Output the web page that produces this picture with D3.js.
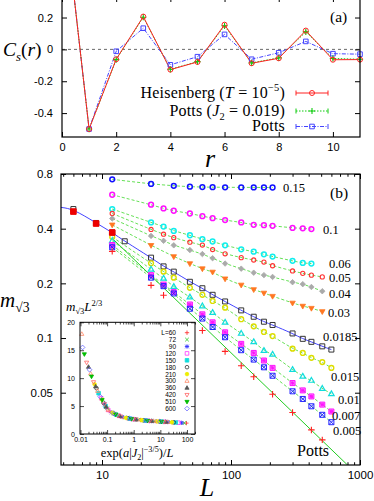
<!DOCTYPE html>
<html>
<head>
<meta charset="utf-8">
<script src="https://cdn.jsdelivr.net/npm/d3@7"></script>
<style>
  body { margin: 0; background: #fff; }
  svg { display: block; }
</style>
</head>
<body>
<div id="frame"></div>
<script>
const width = 374
const height = 501
const sans = 'Liberation Sans, Arial, sans-serif'
const serif = 'Liberation Serif, Times New Roman, serif'

// panel (a): spin correlation C_s(r)
const rA = [0, 1, 2, 3, 4, 5, 6, 7, 8, 9, 10, 11]
const heisenberg = [1, -0.5, -0.062, 0.206, -0.127, -0.079, 0.155, -0.087, -0.056, 0.118, -0.065, -0.064]
const pottsJ2 = [1, -0.5, -0.064, 0.202, -0.125, -0.077, 0.148, -0.085, -0.053, 0.11, -0.057, -0.062]
const pottsA = [1, -0.5, -0.012, 0.133, -0.097, -0.046, 0.094, -0.062, -0.021, 0.05, -0.027, -0.03]

// panel (b): m_sqrt3 vs L for several J2
const L015 = [12, 24, 36, 48, 60, 72, 90, 120, 150, 180, 210]
const m015 = [0.748, 0.705, 0.689, 0.681, 0.678, 0.677, 0.676, 0.675, 0.675, 0.674, 0.674]
const L01 = [12, 24, 30, 36, 48, 60, 72, 90, 120, 150, 180, 210, 300, 360, 420]
const m01 = [0.615, 0.542, 0.517, 0.502, 0.485, 0.469, 0.457, 0.446, 0.433, 0.42, 0.418, 0.415, 0.404, 0.402, 0.398]
const L006 = [12, 24, 30, 36, 48, 60, 72, 90, 120, 150, 180, 210, 300, 360, 420]
const m006 = [0.513, 0.433, 0.411, 0.389, 0.368, 0.35, 0.34, 0.324, 0.308, 0.299, 0.289, 0.281, 0.266, 0.259, 0.257]
const L005 = [12, 24, 30, 36, 48, 60, 72, 90, 120, 150, 180, 210, 300, 360, 420, 510]
const m005 = [0.485, 0.396, 0.373, 0.357, 0.337, 0.325, 0.307, 0.291, 0.277, 0.269, 0.262, 0.25, 0.234, 0.227, 0.222, 0.217]
const L004 = [12, 24, 30, 36, 48, 60, 72, 90, 120, 150, 180, 210, 300, 360, 420, 510]
const m004 = [0.455, 0.365, 0.343, 0.324, 0.305, 0.29, 0.275, 0.257, 0.241, 0.229, 0.222, 0.217, 0.203, 0.198, 0.191, 0.181]
const L003 = [12, 24, 36, 48, 60, 72, 90, 120, 150, 180, 210, 300, 360, 420, 510]
const m003 = [0.42, 0.324, 0.281, 0.257, 0.241, 0.231, 0.212, 0.196, 0.185, 0.177, 0.17, 0.156, 0.15, 0.146, 0.14]
const L00185 = [6, 9, 12, 15, 24, 30, 36, 48, 60, 72, 90, 120, 150, 180, 210, 300, 360, 420, 510, 600]
const m00185 = [0.513, 0.43, 0.381, 0.341, 0.277, 0.248, 0.232, 0.204, 0.188, 0.173, 0.159, 0.142, 0.131, 0.123, 0.118, 0.106, 0.099, 0.0953, 0.09, 0.0864]
const fit00185Start = [4.81, 0.524]
const LSmall = [12, 24, 30, 36, 48, 60, 72, 90, 120, 150, 180, 210, 300, 360, 420, 510, 600]
const m0015 = [0.36, 0.258, 0.232, 0.215, 0.189, 0.173, 0.16, 0.147, 0.127, 0.116, 0.108, 0.1025, 0.0874, 0.0828, 0.0778, 0.0737, 0.0685]
const m001 = [0.343, 0.239, 0.213, 0.192, 0.168, 0.15, 0.138, 0.122, 0.106, 0.0953, 0.0853, 0.0813, 0.067, 0.0615, 0.0584, 0.0527, 0.0493]
const m0007 = [0.325, 0.222, 0.197, 0.179, 0.153, 0.135, 0.122, 0.1075, 0.0929, 0.0828, 0.0752, 0.0685, 0.0565, 0.0515, 0.0477, 0.043, 0.0394]
const m0005 = [0.316, 0.215, 0.193, 0.176, 0.145, 0.128, 0.115, 0.101, 0.0857, 0.0761, 0.069, 0.062, 0.0509, 0.0462, 0.0421, 0.0378, 0.0344]
const LPotts = [12, 24, 30, 60, 90, 120, 150, 210, 300, 420, 510]
const mPotts = [0.3, 0.195, 0.172, 0.11, 0.0844, 0.0704, 0.0612, 0.049, 0.0389, 0.0312, 0.0275]
const pottsFit = [[12, 0.354], [800, 0.02]]
const LHeis = [6, 9, 12]
const mHeis = [0.497, 0.427, 0.381]

// inset: scaling collapse
const insetL = [60, 72, 90, 120, 150, 180, 210, 300, 360, 420, 510, 600]
const insetX = [
  [95, 28, 7, 1.8, 0.55, 0.22, 0.12],
  [79, 23, 5.8, 1.5, 0.46, 0.18, 0.1],
  [63, 19, 4.7, 1.2, 0.37, 0.15, 0.08],
  [48, 14, 3.5, 0.9, 0.28, 0.11, 0.06],
  [38, 11, 2.8, 0.72, 0.22, 0.088, 0.048],
  [32, 9.3, 2.3, 0.6, 0.18, 0.073, 0.04],
  [27, 8, 2, 0.51, 0.16, 0.063, 0.034],
  [19, 5.6, 1.4, 0.36, 0.11, 0.044, 0.024, 0.0112],
  [16, 4.7, 1.2, 0.3, 0.092, 0.037, 0.02],
  [13.6, 4, 1, 0.26, 0.079, 0.031, 0.017],
  [11, 3.3, 0.83, 0.21, 0.065, 0.026, 0.014],
  [9.5, 2.8, 0.7, 0.18, 0.055, 0.022, 0.012]
]
const insetY = [
  [1.95, 2.1, 2.27, 2.5, 2.85, 3.45, 4.1],
  [1.97, 2.12, 2.28, 2.55, 2.95, 3.65, 4.6],
  [2.0, 2.14, 2.32, 2.6, 3.05, 3.85, 5.3],
  [2.03, 2.18, 2.37, 2.68, 3.25, 4.3, 6.4],
  [2.06, 2.21, 2.41, 2.76, 3.45, 5.0, 7.3],
  [2.08, 2.23, 2.45, 2.83, 3.65, 5.6, 8.2],
  [2.1, 2.25, 2.48, 2.88, 3.8, 6.2, 8.9],
  [2.14, 2.29, 2.57, 3.07, 4.3, 7.7, 10.8, 17.9],
  [2.16, 2.32, 2.6, 3.2, 4.85, 8.5, 12.0],
  [2.18, 2.35, 2.65, 3.3, 5.35, 9.3, 12.8],
  [2.21, 2.38, 2.7, 3.5, 6.1, 10.3, 14.3],
  [2.23, 2.41, 2.77, 3.65, 6.7, 11.5, 15.5]
]
const insetShapes = ['plus', 'cross', 'star', 'square', 'squareFilled', 'circle', 'dot', 'triUp', 'triUpFilled', 'triDown', 'triDownFilled', 'diamond']
const insetColors = ['#f33', '#3c3', '#33f', '#f3f', '#1dd', '#333', '#ee0', '#f86', '#555', '#f66', '#0b0', '#66f']

const svg = d3.select('#frame')
  .append('svg')
  .attr('width', width)
  .attr('height', height)
  .style('background', '#fff')

function drawMarker(g, type, color, s, sw = 1.2) {
  if (type === 'circle' || type === 'dot') {
    g.append('circle').attr('r', s)
      .attr('fill', type === 'dot' ? color : 'none')
      .attr('stroke', color).attr('stroke-width', sw)
    return
  }
  const filled = type.endsWith('Filled')
  const base = type.replace('Filled', '')
  const sq = `M${-s},${-s}H${s}V${s}H${-s}Z`
  const plus = `M${-s * 1.2},0H${s * 1.2}M0,${-s * 1.2}V${s * 1.2}`
  const cross = `M${-s},${-s}L${s},${s}M${-s},${s}L${s},${-s}`
  const shapes = {
    square: sq,
    triUp: `M0,${-s * 1.25}L${s * 1.15},${s * 0.75}L${-s * 1.15},${s * 0.75}Z`,
    triDown: `M0,${s * 1.25}L${s * 1.15},${-s * 0.75}L${-s * 1.15},${-s * 0.75}Z`,
    diamond: `M0,${-s * 1.3}L${s * 1.3},0L0,${s * 1.3}L${-s * 1.3},0Z`,
    plus,
    cross,
    star: plus + cross,
    squareStar: sq + `M${-s * 0.7},0H${s * 0.7}M0,${-s * 0.7}V${s * 0.7}M${-s * 0.6},${-s * 0.6}L${s * 0.6},${s * 0.6}M${-s * 0.6},${s * 0.6}L${s * 0.6},${-s * 0.6}`,
    squareX: sq + `M${-s},${-s}L${s},${s}M${-s},${s}L${s},${-s}`
  }
  const open = ['plus', 'cross', 'star'].includes(base)
  g.append('path').attr('d', shapes[base])
    .attr('fill', filled ? color : (base === 'squareStar' ? d3.color(color).brighter(0.6) : 'none'))
    .attr('fill-opacity', base === 'squareStar' ? 0.5 : 1)
    .attr('stroke', color)
    .attr('stroke-width', open ? sw * 1.1 : sw)
}

function markers(parent, xs, ys, x, y, type, color, s, sw) {
  xs.forEach((xv, i) => {
    const g = parent.append('g').attr('transform', `translate(${x(xv)},${y(ys[i])})`)
    drawMarker(g, type, color, s, sw)
  })
}

function richText(g, x, y, parts, fs, anchor) {
  const t = g.append('text').attr('x', x).attr('y', y)
    .attr('font-family', serif).attr('font-size', fs).attr('text-anchor', anchor).attr('fill', '#000')
  let shift = 0
  parts.forEach(([str, kind]) => {
    const sp = t.append('tspan').text(str)
    let target = 0
    if (kind === 'i') sp.attr('font-style', 'italic')
    if (kind === 'sup') { sp.attr('font-size', fs * 0.65); target = -fs * 0.4 }
    if (kind === 'sub') { sp.attr('font-size', fs * 0.65); target = fs * 0.25 }
    if (kind === 'isub') { sp.attr('font-size', fs * 0.65).attr('font-style', 'italic'); target = fs * 0.25 }
    if (target !== shift) { sp.attr('dy', target - shift); shift = target }
  })
  return t
}

function frameAxes(g, x, y, opts) {
  const [x0, x1] = x.range()
  const [y0, y1] = y.range()
  const tl = opts.tick || 5
  g.append('g').attr('transform', `translate(0,${y0})`)
    .call(d3.axisBottom(x).tickValues(opts.xTicks).tickSizeInner(-tl).tickSizeOuter(0).tickPadding(opts.xPad).tickFormat(opts.xFormat))
    .call(a => a.select('.domain').remove())
    .call(a => a.selectAll('text').attr('font-family', sans).attr('font-size', opts.fs).attr('fill', '#000'))
  g.append('g').attr('transform', `translate(0,${y1})`)
    .call(d3.axisTop(x).tickValues(opts.xTicks).tickSizeInner(-tl).tickSizeOuter(0).tickFormat(''))
    .call(a => a.select('.domain').remove())
  g.append('g').attr('transform', `translate(${x0},0)`)
    .call(d3.axisLeft(y).tickValues(opts.yTicks).tickSizeInner(-tl).tickSizeOuter(0).tickPadding(opts.yPad).tickFormat(opts.yFormat))
    .call(a => a.select('.domain').remove())
    .call(a => a.selectAll('text').attr('font-family', sans).attr('font-size', opts.fs).attr('fill', '#000'))
  g.append('g').attr('transform', `translate(${x1},0)`)
    .call(d3.axisRight(y).tickValues(opts.yTicks).tickSizeInner(-tl).tickSizeOuter(0).tickFormat(''))
    .call(a => a.select('.domain').remove())
  if (opts.xMinor) {
    g.append('g').attr('transform', `translate(0,${y0})`)
      .call(d3.axisBottom(x).tickValues(opts.xMinor).tickSizeInner(-tl * 0.55).tickSizeOuter(0).tickFormat(''))
      .call(a => a.select('.domain').remove())
    g.append('g').attr('transform', `translate(0,${y1})`)
      .call(d3.axisTop(x).tickValues(opts.xMinor).tickSizeInner(-tl * 0.55).tickSizeOuter(0).tickFormat(''))
      .call(a => a.select('.domain').remove())
  }
  g.append('rect')
    .attr('x', x0).attr('y', Math.min(y0, y1))
    .attr('width', x1 - x0).attr('height', Math.abs(y0 - y1))
    .attr('fill', 'none').attr('stroke', '#000').attr('stroke-width', opts.frame || 1.2)
}

// ---------- panel (a)
const xA = d3.scaleLinear().domain([0, 11]).range([62, 360])
const yA = d3.scaleLinear().domain([-0.55, 0.31]).range([137, 0])
const gA = svg.append('g')

gA.append('line')
  .attr('x1', xA(0)).attr('x2', xA(11))
  .attr('y1', yA(0)).attr('y2', yA(0))
  .attr('stroke', '#444').attr('stroke-width', 0.8).attr('stroke-dasharray', '3,3')

const seriesA = [
  { values: heisenberg, color: '#f22', dash: null, shape: 'circle', s: 2.5 },
  { values: pottsJ2, color: '#1c1', dash: '1.5,1.5', shape: 'plus', s: 2.6 },
  { values: pottsA, color: '#44f', dash: '4,1.5,1,1.5', shape: 'square', s: 2.3 }
]

seriesA.slice().reverse().forEach((s) => {
  gA.append('path')
    .attr('d', d3.line().x((d, i) => xA(rA[i])).y(d => yA(d))(s.values))
    .attr('fill', 'none')
    .attr('stroke', s.color)
    .attr('stroke-width', 1)
    .attr('stroke-dasharray', s.dash)
})
seriesA.slice().reverse().forEach((s) => {
  markers(gA, rA.slice(1), s.values.slice(1), xA, yA, s.shape, s.color, s.s, 1)
})

frameAxes(gA, xA, yA.copy().range([137, -3]).domain([-0.55, yA.invert(-3)]), {
  xTicks: [0, 2, 4, 6, 8, 10], yTicks: [-0.4, -0.2, 0, 0.2],
  xFormat: d3.format('d'), yFormat: d => d === 0 ? '0' : d.toFixed(1),
  xPad: 6, yPad: 9, fs: 11
})

// legend (a)
const legendA = [
  [['Heisenberg (', 'n'], ['T', 'i'], [' = 10', 'n'], ['−5', 'sup'], [')', 'n']],
  [['Potts (', 'n'], ['J', 'i'], ['2', 'sub'], [' = 0.019)', 'n']],
  [['Potts', 'n']]
]
const legendRows = [93, 111, 126.5]

legendA.forEach((parts, i) => {
  const y = legendRows[i]
  const s = seriesA[i]
  richText(gA, 285, y + 4.5, parts, 16, 'end').attr('letter-spacing', 0.2)
  gA.append('path')
    .attr('d', `M296,${y}H328`)
    .attr('stroke', s.color).attr('stroke-width', 1).attr('fill', 'none')
    .attr('stroke-dasharray', s.dash)
  gA.append('path')
    .attr('d', `M296,${y - 2.5}V${y + 2.5}M328,${y - 2.5}V${y + 2.5}`)
    .attr('stroke', s.color).attr('stroke-width', 1)
  drawMarker(gA.append('g').attr('transform', `translate(312,${y})`), s.shape, s.color, s.s, 1)
})

gA.append('text').attr('x', 330).attr('y', 22).attr('font-family', serif).attr('font-size', 15.5).text('(a)')
richText(gA, 3, 56, [['C', 'i'], ['s', 'isub'], ['(', 'n'], ['r', 'i'], [')', 'n']], 19.5, 'start')
gA.append('text').attr('x', 210).attr('y', 167).attr('text-anchor', 'middle')
  .attr('font-family', serif).attr('font-style', 'italic').attr('font-size', 26).text('r')

// ---------- panel (b)
const xB = d3.scaleLog().domain([4.81, 1000]).range([61, 360])
const yB = d3.scaleLog().domain([0.02, 0.8]).range([465, 174])
const gB = svg.append('g')

svg.append('clipPath').attr('id', 'clipB').append('rect')
  .attr('x', 61).attr('y', 174).attr('width', 299).attr('height', 291)
const plotB = gB.append('g').attr('clip-path', 'url(#clipB)')

const fitColor = '#5d4'
const seriesB = [
  { L: L015, m: m015, shape: 'circle', color: '#11f', s: 2.4, sw: 1.5, label: '0.15', at: [253, 0.637] },
  { L: L01, m: m01, shape: 'circle', color: '#f1f', s: 2.4, sw: 1.5, label: '0.1', at: [517, 0.373] },
  { L: L006, m: m006, shape: 'circle', color: '#1ee', s: 2.4, sw: 1.5, label: '0.06', at: [575, 0.242] },
  { L: L005, m: m005, shape: 'circle', color: '#f33', s: 2.1, sw: 1.1, label: '0.05', at: [575, 0.203] },
  { L: L004, m: m004, shape: 'diamondFilled', color: '#aaa', s: 2.1, sw: 0.8, label: '0.04', at: [575, 0.167] },
  { L: L003, m: m003, shape: 'triDownFilled', color: '#f72', s: 2.4, sw: 0.8, label: '0.03', at: [565, 0.13] },
  { L: L00185, m: m00185, shape: 'square', color: '#333', s: 2.5, sw: 1, label: '0.0185', at: [517, 0.0967], solid: true },
  { L: LSmall, m: m0015, shape: 'circle', color: '#dd0', s: 2.4, sw: 1.4, label: '0.015', at: [596, 0.0582] },
  { L: LSmall, m: m001, shape: 'triUp', color: '#1dd', s: 2.4, sw: 1.2, label: '0.01', at: [675, 0.0435] },
  { L: LSmall, m: m0007, shape: 'squareStar', color: '#f1f', s: 2.5, sw: 1, label: '0.007', at: [607, 0.0354] },
  { L: LSmall, m: m0005, shape: 'squareX', color: '#22f', s: 2.5, sw: 1, label: '0.005', at: [618, 0.0293] }
]

const lineB = d3.line().x(d => xB(d[0])).y(d => yB(d[1])).curve(d3.curveBasis)

// fit curves
seriesB.forEach((s) => {
  const pts = s.L.map((l, i) => [l, s.m[i]])
  if (s.solid) {
    plotB.append('path').attr('d', lineB([fit00185Start, ...pts]))
      .attr('fill', 'none').attr('stroke', '#44f').attr('stroke-width', 1)
  } else {
    plotB.append('path').attr('d', lineB(pts))
      .attr('fill', 'none').attr('stroke', fitColor).attr('stroke-width', 0.9).attr('stroke-dasharray', '3,2')
  }
})
plotB.append('path').attr('d', d3.line().x(d => xB(d[0])).y(d => yB(d[1]))(pottsFit))
  .attr('fill', 'none').attr('stroke', '#2c2').attr('stroke-width', 1)

// markers
seriesB.forEach((s) => markers(plotB, s.L, s.m, xB, yB, s.shape, s.color, s.s, s.sw))
markers(plotB, LPotts, mPotts, xB, yB, 'plus', '#f22', 2.7, 1)
markers(plotB, LHeis, mHeis, xB, yB, 'squareFilled', '#e00', 2.8, 1)

// series labels
seriesB.forEach((s) => {
  gB.append('text').attr('x', xB(s.at[0])).attr('y', yB(s.at[1]))
    .attr('font-family', serif).attr('font-size', 12.5).text(s.label)
})
gB.append('text').attr('x', xB(325)).attr('y', yB(0.0224))
  .attr('font-family', serif).attr('font-size', 16).text('Potts')

const minorB = [5, 6, 7, 8, 9, 20, 30, 40, 50, 60, 70, 80, 90, 200, 300, 400, 500, 600, 700, 800, 900]
frameAxes(gB, xB, yB, {
  xTicks: [10, 100, 1000], yTicks: [0.05, 0.1, 0.2, 0.4, 0.8], xMinor: minorB,
  xFormat: d3.format('d'), yFormat: d => String(d),
  xPad: 6, yPad: 8, fs: 11.5
})

gB.append('text').attr('x', 330).attr('y', 198).attr('font-family', serif).attr('font-size', 15.5).text('(b)')
richText(gB, 0, 307, [['m', 'i'], ['√3', 'sub']], 21, 'start')
gB.append('text').attr('x', 207).attr('y', 496).attr('text-anchor', 'middle')
  .attr('font-family', serif).attr('font-style', 'italic').attr('font-size', 26).text('L')

// ---------- inset
const xI = d3.scaleLog().domain([0.0096, 200]).range([80, 195])
const yI = d3.scaleLinear().domain([0, 20]).range([434, 322.3])
const gI = svg.append('g')
gI.append('rect').attr('x', 80).attr('y', 322.3).attr('width', 115).attr('height', 111.7).attr('fill', '#fff')

insetL.forEach((l, k) => {
  markers(gI, insetX[k], insetY[k], xI, yI, insetShapes[k], insetColors[k], 1.8, 0.8)
})

const minorI = []
;[0.01, 0.1, 1, 10, 100].forEach(d => [2, 3, 4, 5, 6, 7, 8, 9].forEach(k => { if (d * k <= 200) minorI.push(d * k) }))
frameAxes(gI, xI, yI, {
  xTicks: [0.01, 0.1, 1, 10, 100], yTicks: [0, 5, 10, 15, 20], xMinor: minorI,
  xFormat: d => String(d), yFormat: d3.format('d'),
  xPad: 3, yPad: 5, fs: 7, tick: 4, frame: 1
})
gI.selectAll('.tick line').attr('stroke-width', 0.7)

// inset legend
insetL.forEach((l, k) => {
  const y = 332.7 + k * 6.9
  gI.append('text').attr('x', 176).attr('y', y + 2.4).attr('text-anchor', 'end')
    .attr('font-family', sans).attr('font-size', 6.5).text(k === 0 ? 'L=' + l : l)
  drawMarker(gI.append('g').attr('transform', `translate(187,${y})`), insetShapes[k], insetColors[k], 1.8, 0.8)
})

richText(gI, 66, 311, [['m', 'i'], ['√3', 'sub'], ['L', 'i'], ['2/3', 'sup']], 13, 'start')
richText(gI, 137, 457, [['exp(', 'n'], ['a', 'i'], ['|', 'n'], ['J', 'i'], ['2', 'sub'], ['|', 'n'], ['−3/5', 'sup'], [')/', 'n'], ['L', 'i']], 12.5, 'middle')
</script>
</body>
</html>
